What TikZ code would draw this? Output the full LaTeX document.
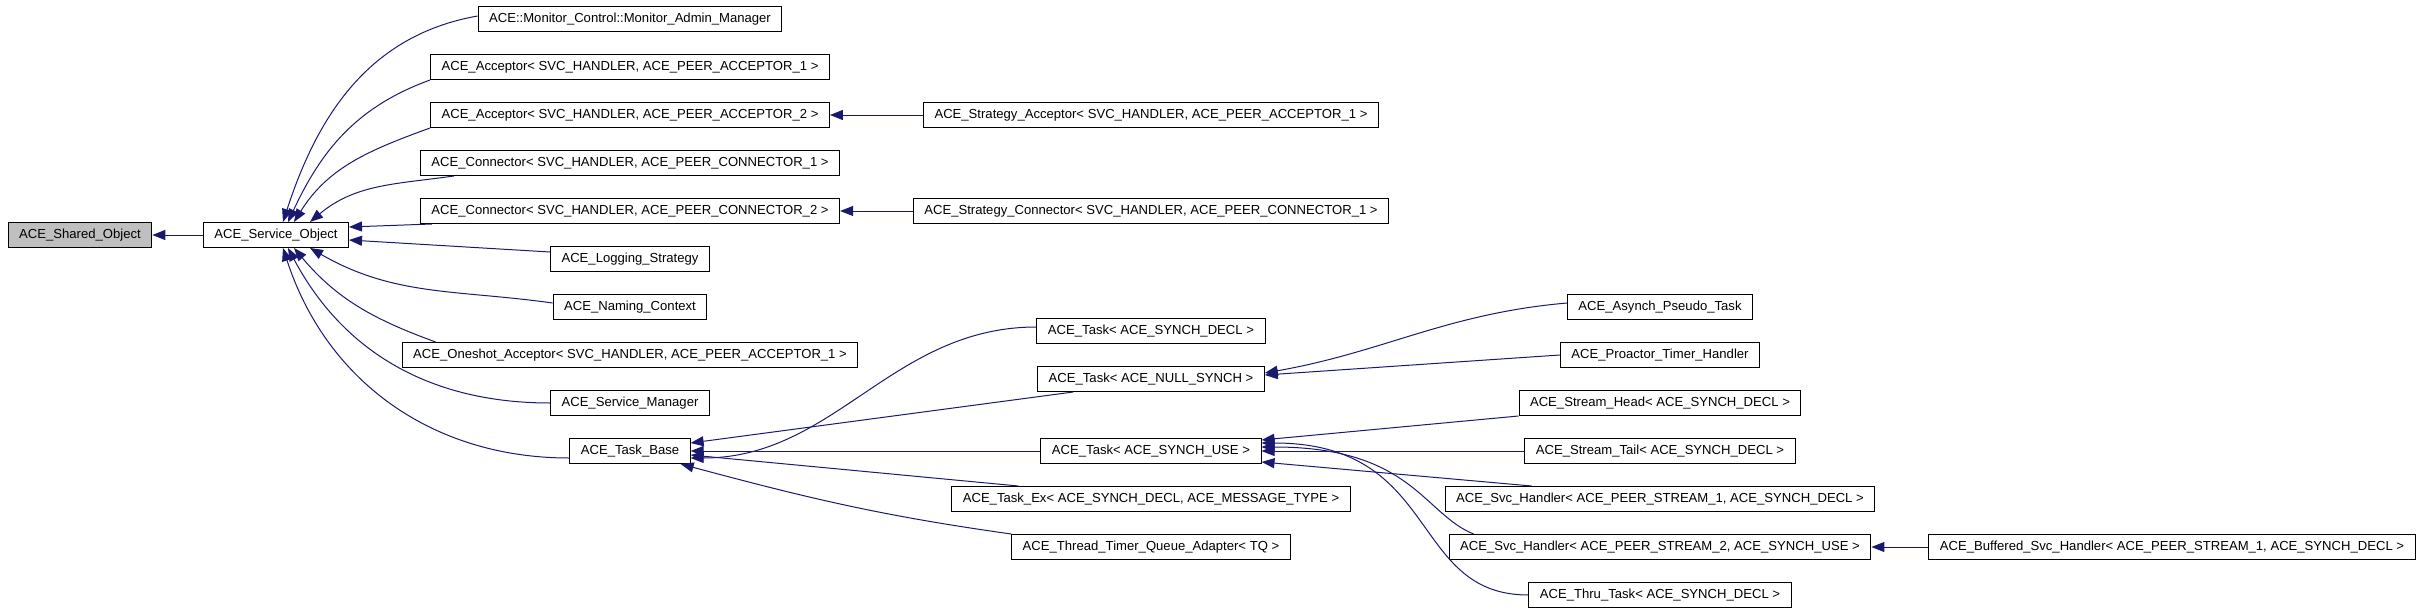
\documentclass[tikz,border=0pt]{standalone}
\usepackage{fontspec}
\setmainfont{Liberation Sans}
\usetikzlibrary{shapes, arrows.meta, positioning}
\definecolor{edgeblue}{HTML}{191970}
\tikzstyle{block}=[draw,fill=white,rectangle,line width=0.5pt,minimum height=12.5pt,inner xsep=5.5pt,inner ysep=0pt]
\tikzstyle{rootblock}=[block,fill=black!25]
\tikzstyle{edge}=[draw=edgeblue,line width=0.5pt,->]
\tikzstyle{every node}=[font=\fontsize{6.55}{8}\selectfont]

\begin{document}
\begin{tikzpicture}[auto,node distance=24pt,>={Triangle[length=6.5pt,width=5pt]}]
    \useasboundingbox (0,0) rectangle (1213.5pt,-305.5pt);

    \node[rootblock] (shared) at (40pt,-117.5pt) {ACE\_Shared\_Object};
    \node[block, right of=shared, node distance=98pt] (service) {ACE\_Service\_Object};
    \draw[edge] (service) -- (shared);

    \node[block] (monitor) at (315pt,-9.5pt) {ACE::Monitor\_Control::Monitor\_Admin\_Manager};
    \node[block, below of=monitor] (acceptorA) {ACE\_Acceptor< SVC\_HANDLER, ACE\_PEER\_ACCEPTOR\_1 >};
    \node[block, below of=acceptorA] (acceptorB) {ACE\_Acceptor< SVC\_HANDLER, ACE\_PEER\_ACCEPTOR\_2 >};
    \node[block, below of=acceptorB] (connectorA) {ACE\_Connector< SVC\_HANDLER, ACE\_PEER\_CONNECTOR\_1 >};
    \node[block, below of=connectorA] (connectorB) {ACE\_Connector< SVC\_HANDLER, ACE\_PEER\_CONNECTOR\_2 >};
    \node[block, below of=connectorB] (logging) {ACE\_Logging\_Strategy};
    \node[block, below of=logging] (naming) {ACE\_Naming\_Context};
    \node[block, below of=naming] (oneshot) {ACE\_Oneshot\_Acceptor< SVC\_HANDLER, ACE\_PEER\_ACCEPTOR\_1 >};
    \node[block, below of=oneshot] (manager) {ACE\_Service\_Manager};
    \node[block, below of=manager] (taskbase) {ACE\_Task\_Base};

    \draw[edge] ([yshift=1.5pt]monitor.west) to[out=190,in=72] ([xshift=3.5pt]service.north);
    \draw[edge] (acceptorA.south west) to[out=200,in=65] ([xshift=6pt]service.north);
    \draw[edge] (acceptorB.south west) to[out=200,in=58] ([xshift=9pt]service.north);
    \draw[edge] ([xshift=17pt]connectorA.south west) to[out=188,in=40] ([xshift=17pt]service.north);
    \draw[edge] ([xshift=6pt]connectorB.south west) -- ([yshift=4pt]service.east);
    \draw[edge] ([yshift=3.5pt]logging.west) -- ([yshift=-2.5pt]service.east);
    \draw[edge] ([yshift=2pt]naming.west) to[out=172,in=-30] ([xshift=17pt]service.south);
    \draw[edge] ([xshift=17pt]oneshot.north west) to[out=160,in=-50] ([xshift=9pt]service.south);
    \draw[edge] (manager.west) to[out=180,in=-62] ([xshift=6pt]service.south);
    \draw[edge] ([yshift=-3.5pt]taskbase.west) to[out=180,in=-72] ([xshift=3.5pt]service.south);

    \node[block, right of=acceptorB, node distance=260.5pt] (stratacc) {ACE\_Strategy\_Acceptor< SVC\_HANDLER, ACE\_PEER\_ACCEPTOR\_1 >};
    \node[block, right of=connectorB, node distance=260.5pt] (stratcon) {ACE\_Strategy\_Connector< SVC\_HANDLER, ACE\_PEER\_CONNECTOR\_1 >};
    \draw[edge] (stratacc) -- (acceptorB);
    \draw[edge] (stratcon) -- (connectorB);

    \node[block, right of=taskbase, node distance=260.5pt] (taskuse) {ACE\_Task< ACE\_SYNCH\_USE >};
    \node[block, above of=taskuse, node distance=36pt] (tasknull) {ACE\_Task< ACE\_NULL\_SYNCH >};
    \node[block, above of=tasknull] (taskdecl) {ACE\_Task< ACE\_SYNCH\_DECL >};
    \node[block, below of=taskuse] (taskex) {ACE\_Task\_Ex< ACE\_SYNCH\_DECL, ACE\_MESSAGE\_TYPE >};
    \node[block, below of=taskex] (adapter) {ACE\_Thread\_Timer\_Queue\_Adapter< TQ >};

    \draw[edge] ([yshift=2pt]taskdecl.west) to[out=180,in=0] ([yshift=-3.5pt]taskbase.east);
    \draw[edge] ([xshift=18pt]tasknull.south west) -- ([yshift=4pt]taskbase.east);
    \draw[edge] (taskuse) -- (taskbase);
    \draw[edge] ([xshift=33.5pt]taskex.north west) -- ([yshift=-2pt]taskbase.east);
    \draw[edge] (adapter.north west) to[out=172,in=-15] ([xshift=-5pt]taskbase.south east);

    \node[block, right of=taskuse, node distance=254.5pt] (tail) {ACE\_Stream\_Tail< ACE\_SYNCH\_DECL >};
    \node[block, above of=tail] (head) {ACE\_Stream\_Head< ACE\_SYNCH\_DECL >};
    \node[block, above of=head] (proactor) {ACE\_Proactor\_Timer\_Handler};
    \node[block, above of=proactor] (asynch) {ACE\_Asynch\_Pseudo\_Task};
    \node[block, below of=tail] (svcA) {ACE\_Svc\_Handler< ACE\_PEER\_STREAM\_1, ACE\_SYNCH\_DECL >};
    \node[block, below of=svcA] (svcB) {ACE\_Svc\_Handler< ACE\_PEER\_STREAM\_2, ACE\_SYNCH\_USE >};
    \node[block, below of=svcB] (thru) {ACE\_Thru\_Task< ACE\_SYNCH\_DECL >};
    \node[block, right of=svcB, node distance=256pt] (buffered) {ACE\_Buffered\_Svc\_Handler< ACE\_PEER\_STREAM\_1, ACE\_SYNCH\_DECL >};

    \draw[edge] ([yshift=2pt]asynch.west) to[out=185,in=10] ([yshift=3pt]tasknull.east);
    \draw[edge] (proactor.west) -- ([yshift=2pt]tasknull.east);
    \draw[edge] (head.south west) -- ([yshift=5.5pt]taskuse.east);
    \draw[edge] (tail) -- (taskuse);
    \draw[edge] ([xshift=43.5pt]svcA.north west) -- ([yshift=-5.5pt]taskuse.east);
    \draw[edge] ([xshift=12.5pt]svcB.north west) .. controls +(-25pt,10pt) and +(75pt,0pt) .. ([yshift=2pt]taskuse.east);
    \draw[edge] (thru.west) .. controls +(-60pt,0pt) and +(90pt,0pt) .. ([yshift=4pt]taskuse.east);
    \draw[edge] (buffered) -- (svcB);
\end{tikzpicture}
\end{document}
